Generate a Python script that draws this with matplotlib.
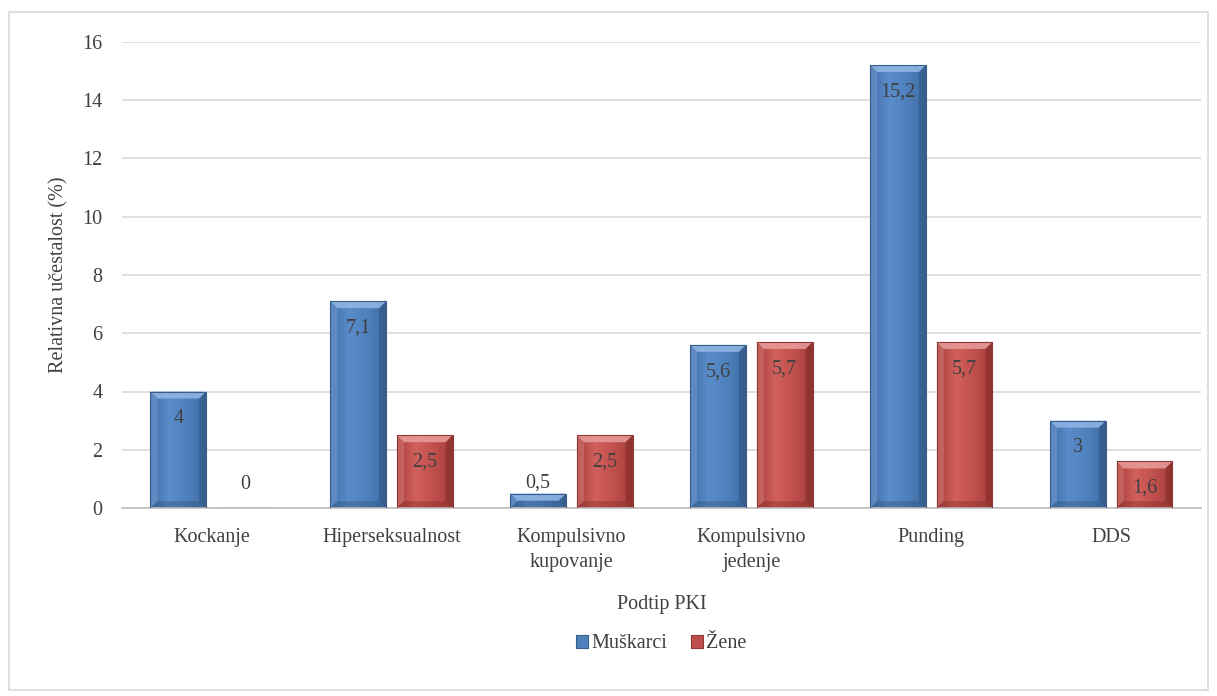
import numpy as np
import matplotlib.pyplot as plt
from matplotlib.colors import LinearSegmentedColormap
from matplotlib.patches import Rectangle, Polygon

kategorije = ["Kockanje", "Hiperseksualnost", "Kompulsivno\nkupovanje",
              "Kompulsivno\njedenje", "Punding", "DDS"]
muskarci = [4, 7.1, 0.5, 5.6, 15.2, 3]
zene = [0, 2.5, 2.5, 5.7, 5.7, 1.6]
oznake_m = ["4", "7,1", "0,5", "5,6", "15,2", "3"]
oznake_z = ["0", "2,5", "2,5", "5,7", "5,7", "1,6"]

plt.rcParams['font.family'] = ['Liberation Serif', 'DejaVu Serif']
SIVA = '#404040'
FS = 14.5

fig = plt.figure(figsize=(12.17, 6.96), dpi=100)
ax = fig.add_axes([0.1, 0.27, 0.887, 0.67])

# okvir oko cijelog grafikona
fig.patches.append(Rectangle((0.007, 0.008), 0.986, 0.975, transform=fig.transFigure,
                             fill=False, edgecolor='#D9D9D9', linewidth=1.2))

x = np.arange(len(kategorije))
w = 0.31
off = 0.185

plava = LinearSegmentedColormap.from_list('plava', ['#3F6FA8', '#5A8CCB', '#4F81BD', '#3F6CA3'])
crvena = LinearSegmentedColormap.from_list('crvena', ['#A8403C', '#D2605C', '#C0504D', '#A33E3B'])

ax.set_ylim(0, 16)
ax.set_xlim(-0.5, len(kategorije) - 0.5)

def stupci(pos, vals, cmap, rub, svijetla, tamna, legenda):
    bars = ax.bar(pos, vals, w, color='none', edgecolor=rub, linewidth=0.8,
                  label=legenda, zorder=3)
    grad = np.linspace(0, 1, 64).reshape(1, -1)
    # kosina otprilike 7 px u oba smjera
    bx = 7 / 1078 * len(kategorije)
    by = 7 / 466 * 16
    for b in bars:
        if b.get_height() <= 0:
            continue
        x0, y0 = b.get_x(), b.get_y()
        bw, bh = b.get_width(), b.get_height()
        x1, y1 = x0 + bw, y0 + bh
        im = ax.imshow(grad, cmap=cmap, aspect='auto', extent=(x0, x1, y0, y1),
                       zorder=2, interpolation='bicubic')
        im.set_clip_path(b)
        d = min(by, bh / 2)
        ax.add_patch(Polygon([(x0, y1), (x1, y1), (x1 - bx, y1 - d), (x0 + bx, y1 - d)],
                             closed=True, facecolor=svijetla, edgecolor='none', alpha=0.9, zorder=2.5))
        ax.add_patch(Polygon([(x0, y1), (x0 + bx, y1 - d), (x0 + bx, y0 + d), (x0, y0)],
                             closed=True, facecolor=svijetla, edgecolor='none', alpha=0.35, zorder=2.5))
        ax.add_patch(Polygon([(x1, y1), (x1 - bx, y1 - d), (x1 - bx, y0 + d), (x1, y0)],
                             closed=True, facecolor=tamna, edgecolor='none', alpha=0.45, zorder=2.5))
        ax.add_patch(Polygon([(x0, y0), (x1, y0), (x1 - bx, y0 + d), (x0 + bx, y0 + d)],
                             closed=True, facecolor=tamna, edgecolor='none', alpha=0.35, zorder=2.5))
    return bars

b1 = stupci(x - off, muskarci, plava, '#385D8A', '#8FB4E3', '#2C4D75', 'Muškarci')
b2 = stupci(x + off, zene, crvena, '#8C3836', '#E69A97', '#7A2523', 'Žene')

def oznake(bars, tekstovi):
    for b, t in zip(bars, tekstovi):
        h = b.get_height()
        cx = b.get_x() + b.get_width() / 2
        if h > 1:
            ax.text(cx, h - 0.6, t, ha='center', va='top', fontsize=FS, color=SIVA, zorder=4)
        elif h > 0:
            ax.text(cx, h + 0.03, t, ha='center', va='bottom', fontsize=FS, color=SIVA, zorder=4)
        else:
            ax.text(cx, 0.5, t, ha='center', va='bottom', fontsize=FS, color=SIVA, zorder=4)

oznake(b1, oznake_m)
oznake(b2, oznake_z)

ax.set_yticks(range(0, 17, 2))
ax.set_xticks(x)
ax.set_xticklabels(kategorije, fontsize=FS, color=SIVA, linespacing=1.45)
ax.tick_params(axis='y', labelsize=FS, labelcolor=SIVA, length=0, pad=14)
ax.tick_params(axis='x', length=0, pad=14)
ax.grid(axis='y', color='#D9D9D9', linewidth=1.2, zorder=0)
ax.set_axisbelow(True)
for s in ['top', 'right', 'left']:
    ax.spines[s].set_visible(False)
ax.spines['bottom'].set_color('#BFBFBF')
ax.spines['bottom'].set_linewidth(1.2)

ax.set_ylabel("Relativna učestalost (%)", fontsize=FS, color=SIVA, labelpad=10)
ax.set_xlabel("Podtip PKI", fontsize=FS, color=SIVA, labelpad=17)

leg = ax.legend(loc='upper center', bbox_to_anchor=(0.5, -0.232), ncol=2, frameon=False,
                fontsize=FS, handlelength=0.6, handleheight=0.6, handletextpad=0.15,
                columnspacing=1.2, labelcolor=SIVA)
for h, c in zip(leg.legend_handles, ['#4F81BD', '#C0504D']):
    h.set_facecolor(c)

fig.savefig("out.png", dpi=100)
